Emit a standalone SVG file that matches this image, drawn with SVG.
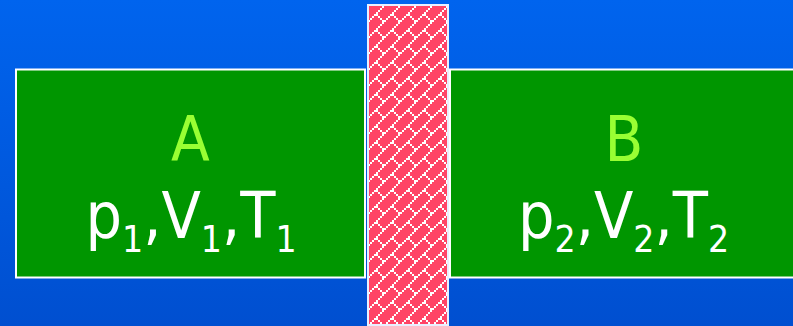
<svg xmlns="http://www.w3.org/2000/svg" width="793" height="326" viewBox="0 0 793 326">
  <defs>
    <linearGradient id="bg" x1="0" y1="0" x2="0" y2="1">
      <stop offset="0" stop-color="#0064EE"/>
      <stop offset="1" stop-color="#004FD0"/>
    </linearGradient>
    <pattern id="brick" patternUnits="userSpaceOnUse" x="368" y="6" width="16" height="16">
      <rect width="16" height="16" fill="#FF4466"/>
      <g fill="#FFFFFF">
        <rect x="14" y="0" width="2" height="2"/>
        <rect x="12" y="2" width="2" height="2"/>
        <rect x="10" y="4" width="2" height="2"/>
        <rect x="8" y="6" width="2" height="2"/>
        <rect x="6" y="8" width="4" height="2"/>
        <rect x="4" y="10" width="2" height="2"/>
        <rect x="10" y="10" width="2" height="2"/>
        <rect x="2" y="12" width="2" height="2"/>
        <rect x="12" y="12" width="2" height="2"/>
        <rect x="0" y="14" width="2" height="2"/>
        <rect x="14" y="14" width="2" height="2"/>
      </g>
    </pattern>
    <style>
      .box { fill: #009600; stroke: #FFFFFF; stroke-width: 2; }
      .wall { fill: url(#brick); stroke: #E8F0FF; stroke-width: 2; }
      .t { font-family: "DejaVu Sans Condensed", "DejaVu Sans", sans-serif; font-stretch: condensed; text-anchor: middle; }
      .name { fill: #99FF33; font-size: 63px; }
      .vars { fill: #FFFFFF; font-size: 64px; }
      .sub { font-size: 37px; }
    </style>
  </defs>
  <rect width="793" height="326" fill="url(#bg)"/>
  <g id="connectors"></g>
  <g id="boxA">
    <rect class="box" x="16" y="69.5" width="349" height="208"/>
    <text class="t name" x="190.5" y="161">A</text>
    <text class="t vars" x="191" y="238">p<tspan class="sub" dy="14">1</tspan><tspan dy="-14">,V</tspan><tspan class="sub" dy="14">1</tspan><tspan dy="-14">,T</tspan><tspan class="sub" dy="14">1</tspan></text>
  </g>
  <g id="boxB">
    <rect class="box" x="450" y="69.5" width="360" height="208"/>
    <text class="t name" x="624" y="161">B</text>
    <text class="t vars" x="623.5" y="238">p<tspan class="sub" dy="14">2</tspan><tspan dy="-14">,V</tspan><tspan class="sub" dy="14">2</tspan><tspan dy="-14">,T</tspan><tspan class="sub" dy="14">2</tspan></text>
  </g>
  <g id="wall">
    <rect class="wall" x="368" y="5" width="80" height="320"/>
  </g>
</svg>
